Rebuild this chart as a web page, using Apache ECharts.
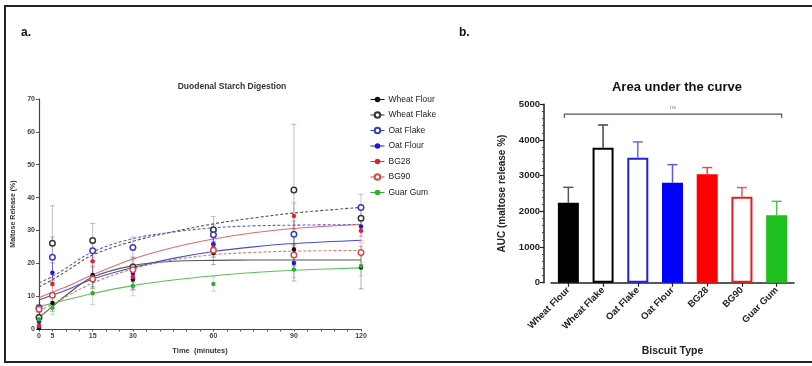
<!DOCTYPE html>
<html><head><meta charset="utf-8">
<script src="https://cdn.jsdelivr.net/npm/echarts@6/dist/echarts.min.js"></script>
<style>html,body{margin:0;padding:0;background:#fff}#c{width:812px;height:366px}</style>
</head><body><div id="c"></div>
<script>
// ---- Panel a: Duodenal starch digestion ----
const seriesNames = ['Wheat Flour','Wheat Flake','Oat Flake','Oat Flour','BG28','BG90','Guar Gum'];
const timeLabels = ['0','5','15','30','60','90','120'];
// plotted positions of the time points on the linear axis
const timePos = [0, 5, 20, 35, 65, 95, 120];
const wheatFlour = [0.3, 7.9, 16.4, 15.1, 23.1, 24.2, 18.7];
const wheatFlake = [3.5, 26.1, 26.9, 18.9, 30.2, 42.3, 33.7];
const oatFlake   = [6.5, 21.8, 23.8, 24.8, 28.7, 28.8, 37.0];
const oatFlour   = [2.2, 17.1, 15.9, 16.8, 25.8, 20.1, 31.2];
const bg28       = [0.9, 13.7, 20.6, 15.8, 24.8, 34.4, 29.9];
const bg90       = [6.0, 10.3, 15.2, 18.0, 24.0, 22.5, 23.3];
const guarGum    = [3.0, 6.5, 10.9, 13.1, 13.7, 18.1, 19.2];
const wheatFlourErr = [0.5, 2.5, 4.0, 3.0, 3.5, 5.0, 6.5];
const wheatFlakeErr = [1.0, 11.4, 5.2, 3.0, 4.0, 20.0, 4.0];
const oatFlakeErr   = [1.0, 6.2, 3.0, 3.2, 3.0, 4.0, 4.0];
const oatFlourErr   = [1.0, 3.0, 3.0, 2.5, 3.0, 5.5, 3.0];
const bg28Err       = [0.5, 3.0, 4.0, 4.0, 3.0, 4.0, 3.0];
const bg90Err       = [1.0, 3.0, 4.0, 3.0, 2.0, 3.0, 3.0];
const guarGumErr    = [1.0, 2.0, 3.5, 3.0, 2.2, 2.5, 3.0];
// fitted curves at these axis positions
const curveX = [0, 5, 10, 20, 35, 50, 65, 80, 95, 120];
const wheatFlourFit = [3.5, 6.8, 10.2, 15.8, 19.3, 20.6, 20.9, 21.0, 21.0, 21.0];
const wheatFlakeFit = [12.8, 15.0, 17.5, 22.5, 26.7, 29.6, 32.0, 33.8, 35.3, 37.0];
const oatFlakeFit   = [14.0, 16.0, 18.5, 23.5, 27.5, 29.5, 30.8, 31.4, 31.6, 31.8];
const oatFlourFit   = [8.8, 10.3, 11.8, 15.2, 18.7, 21.5, 23.6, 25.0, 26.0, 27.0];
const bg28Fit       = [9.5, 11.2, 12.8, 16.5, 21.3, 24.8, 27.4, 29.3, 30.6, 31.8];
const bg90Fit       = [5.5, 7.5, 9.8, 14.0, 18.3, 21.0, 22.6, 23.3, 23.7, 23.9];
const guarGumFit    = [6.8, 7.8, 8.8, 10.8, 13.2, 14.9, 16.2, 17.2, 17.9, 18.6];
const yTicksA = [0, 10, 20, 30, 40, 50, 60, 70];

// ---- Panel b: Area under the curve ----
const biscuitTypes = ['Wheat Flour','Wheat Flake','Oat Flake','Oat Flour','BG28','BG90','Guar Gum'];
const aucValues = [2243, 3785, 3505, 2804, 3037, 2411, 1888];
const aucErr    = [430, 635, 440, 505, 190, 255, 392];
const yTicksB = [0, 1000, 2000, 3000, 4000, 5000];
const nsLevel = 4725;

const means = [wheatFlour, wheatFlake, oatFlake, oatFlour, bg28, bg90, guarGum];
const errs = [wheatFlourErr, wheatFlakeErr, oatFlakeErr, oatFlourErr, bg28Err, bg90Err, guarGumErr];
const fits = [wheatFlourFit, wheatFlakeFit, oatFlakeFit, oatFlourFit, bg28Fit, bg90Fit, guarGumFit];

const cols = ['#111111','#333333','#3a3ac8','#1a1ad8','#e02424','#c8504c','#2fae2f'];
const lineCols = ['#555555','#555555','#5a5ad0','#4a4ad0','#e06a6a','#d07a6a','#5fbf5f'];
const hollow = [false, true, true, false, false, true, false];
const dashed = [false, true, true, false, false, true, false];
const barFill = ['#000000','#ffffff','#ffffff','#0000ff','#ff0000','#ffffff','#1fbf1f'];
const barBorder = ['#000000','#000000','#1f1fe0','#0000ff','#ff0000','#e02020','#1fbf1f'];
const barErrCol = ['#555555','#444444','#6a6ae0','#5a5ad8','#e84a4a','#e85a5a','#4cc44c'];

const FONT = 'Liberation Sans, Arial, sans-serif';
const series = [];

fits.forEach((f, i) => {
  series.push({
    type: 'line', name: seriesNames[i] + ' fit', xAxisIndex: 0, yAxisIndex: 0,
    data: curveX.map((x, k) => [x, f[k]]), smooth: 0.35, showSymbol: false, silent: true,
    lineStyle: { color: lineCols[i], width: 1.1, type: dashed[i] ? [3, 2] : 'solid' }, z: 2
  });
});
means.forEach((m, i) => {
  series.push({
    type: 'custom', name: seriesNames[i] + ' err', xAxisIndex: 0, yAxisIndex: 0, silent: true,
    data: timePos.map((x, k) => [x, m[k] - errs[i][k], m[k] + errs[i][k]]),
    encode: { x: 0, y: [1, 2] }, z: 3,
    renderItem: (params, api) => {
      const x = api.value(0);
      const a = api.coord([x, api.value(2)]);
      const b = api.coord([x, api.value(1)]);
      const st = { stroke: cols[i], lineWidth: 0.8, opacity: 0.4 };
      return { type: 'group', children: [
        { type: 'line', shape: { x1: a[0], y1: a[1], x2: b[0], y2: b[1] }, style: st },
        { type: 'line', shape: { x1: a[0] - 2.5, y1: a[1], x2: a[0] + 2.5, y2: a[1] }, style: st },
        { type: 'line', shape: { x1: b[0] - 2.5, y1: b[1], x2: b[0] + 2.5, y2: b[1] }, style: st }
      ]};
    }
  });
});
means.forEach((m, i) => {
  series.push({
    type: 'line', name: seriesNames[i], xAxisIndex: 0, yAxisIndex: 0,
    data: timePos.map((x, k) => [x, m[k]]), symbol: 'circle',
    symbolSize: hollow[i] ? 5.5 : 4.5, showSymbol: true,
    lineStyle: { opacity: 0 },
    itemStyle: hollow[i] ? { color: '#ffffff', borderColor: cols[i], borderWidth: 1.5 } : { color: cols[i] },
    z: 5
  });
});

series.push({
  type: 'bar', name: 'AUC', xAxisIndex: 1, yAxisIndex: 1, barWidth: 21,
  data: aucValues.map((v, i) => ({ value: v, itemStyle: { color: barFill[i], borderColor: barBorder[i], borderWidth: 2 } })),
  z: 3
});
series.push({
  type: 'custom', name: 'AUC err', xAxisIndex: 1, yAxisIndex: 1, silent: true,
  data: aucValues.map((v, i) => [i, v, v + aucErr[i]]), encode: { x: 0, y: [1, 2] }, z: 2,
  renderItem: (params, api) => {
    const i = api.value(0);
    const a = api.coord([i, api.value(2)]);
    const b = api.coord([i, api.value(1)]);
    const st = { stroke: barErrCol[i], lineWidth: 1.5 };
    return { type: 'group', children: [
      { type: 'line', shape: { x1: a[0], y1: a[1], x2: b[0], y2: b[1] }, style: st },
      { type: 'line', shape: { x1: a[0] - 5, y1: a[1], x2: a[0] + 5, y2: a[1] }, style: st }
    ]};
  }
});
series.push({
  type: 'custom', name: 'ns', xAxisIndex: 1, yAxisIndex: 1, silent: true,
  data: [[0, 6, nsLevel]], encode: { x: [0, 1], y: 2 }, z: 4,
  renderItem: (params, api) => {
    const a = api.coord([api.value(0), api.value(2)]);
    const b = api.coord([api.value(1), api.value(2)]);
    const x1 = a[0] - 4, x2 = b[0] + 5, y = a[1];
    return { type: 'group', children: [
      { type: 'polyline', shape: { points: [[x1, y + 4], [x1, y], [x2, y], [x2, y + 4]] }, style: { stroke: '#555', lineWidth: 1.2, fill: null } },
      { type: 'text', style: { x: (x1 + x2) / 2, y: y - 4, text: 'ns', fill: '#888', fontSize: 6, font: '6px ' + FONT, textAlign: 'center', textVerticalAlign: 'bottom' } }
    ]};
  }
});

const option = {
  backgroundColor: '#fff',
  animation: false,
  textStyle: { fontFamily: FONT },
  title: [
    { text: 'Duodenal Starch Digestion', left: 227, top: 77, textAlign: 'center',
      textStyle: { fontSize: 8.5, fontWeight: 'bold', color: '#333', fontFamily: FONT } },
    { text: 'Area under the curve', left: 672, top: 76, textAlign: 'center',
      textStyle: { fontSize: 13, fontWeight: 'bold', color: '#111', fontFamily: FONT } }
  ],
  legend: {
    orient: 'vertical', left: 365, top: 90, itemWidth: 14, itemHeight: 7, itemGap: 6.5,
    data: seriesNames.map((n, i) => ({ name: n, lineStyle: { opacity: 1, color: cols[i], width: 1 } })),
    textStyle: { fontSize: 8.5, color: '#222', fontFamily: FONT, padding: [0, 0, 0, -1] },
    selectedMode: false
  },
  grid: [
    { left: 39, top: 99, width: 322, height: 230 },
    { left: 551, top: 104.3, width: 243, height: 178.4 }
  ],
  xAxis: [
    { type: 'value', gridIndex: 0, min: 0, max: 120, interval: 5,
      name: 'Time  (minutes)', nameLocation: 'middle', nameGap: 18,
      nameTextStyle: { fontSize: 7.5, fontWeight: 'bold', color: '#333' },
      splitLine: { show: false },
      axisLine: { lineStyle: { color: '#444', width: 1.2 } },
      axisTick: { length: 2.5, lineStyle: { color: '#555' } },
      axisLabel: { fontSize: 7, fontWeight: 'bold', color: '#444', margin: 4,
        formatter: v => { const k = timePos.indexOf(v); return k >= 0 ? timeLabels[k] : ''; } } },
    { type: 'category', gridIndex: 1, data: biscuitTypes,
      name: 'Biscuit Type', nameLocation: 'middle', nameGap: 63,
      nameTextStyle: { fontSize: 10.5, fontWeight: 'bold', color: '#222' },
      axisLine: { lineStyle: { color: '#222', width: 1.5 } },
      axisTick: { show: true, alignWithLabel: true, length: 4, lineStyle: { color: '#222', width: 1.2 } },
      axisLabel: { rotate: 45, fontSize: 9.5, fontWeight: 'bold', color: '#222', margin: 6 } }
  ],
  yAxis: [
    { type: 'value', gridIndex: 0, min: 0, max: 70, interval: 10,
      name: 'Maltose Release (%)', nameLocation: 'middle', nameGap: 22, nameRotate: 90,
      nameTextStyle: { fontSize: 7, fontWeight: 'bold', color: '#333' },
      splitLine: { show: false },
      axisLine: { show: true, lineStyle: { color: '#444', width: 1.2 } },
      axisTick: { show: true, length: 3, lineStyle: { color: '#555' } },
      axisLabel: { fontSize: 7, fontWeight: 'bold', color: '#444', margin: 4,
        formatter: v => yTicksA.indexOf(v) >= 0 ? String(v) : '' } },
    { type: 'value', gridIndex: 1, min: 0, max: 5000, interval: 1000, offset: 7,
      name: 'AUC (maltose release %)', nameLocation: 'middle', nameGap: 37, nameRotate: 90,
      nameTextStyle: { fontSize: 10, fontWeight: 'bold', color: '#222' },
      splitLine: { show: false },
      axisLine: { show: true, lineStyle: { color: '#222', width: 1.5 } },
      axisTick: { show: true, length: 4, lineStyle: { color: '#222', width: 1.2 } },
      minorTick: { show: true, splitNumber: 5, length: 2, lineStyle: { color: '#444' } },
      axisLabel: { fontSize: 9.5, fontWeight: 'bold', color: '#222', margin: 4,
        formatter: v => yTicksB.indexOf(v) >= 0 ? String(v) : '' } }
  ],
  graphic: [
    { type: 'rect', shape: { x: 5, y: 6, width: 830, height: 356 }, style: { fill: null, stroke: '#222', lineWidth: 2 }, silent: true },
    { type: 'text', left: 21, top: 27, style: { text: 'a.', fontSize: 12, fontWeight: 'bold', fill: '#111', font: 'bold 12px "Liberation Sans Narrow", ' + FONT } },
    { type: 'text', left: 459, top: 27, style: { text: 'b.', fontSize: 12, fontWeight: 'bold', fill: '#111', font: 'bold 12px "Liberation Sans Narrow", ' + FONT } }
  ],
  series: series
};
const chart = echarts.init(document.getElementById('c'), null, { renderer: 'canvas' });
chart.setOption(option);
</script>
</body></html>
